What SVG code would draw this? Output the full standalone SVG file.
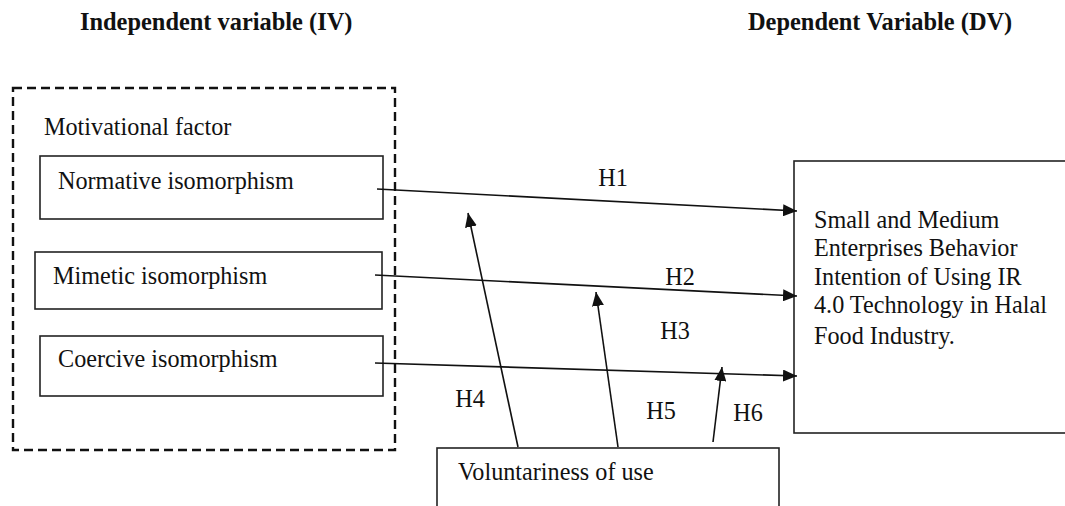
<svg xmlns="http://www.w3.org/2000/svg" width="1065" height="506" viewBox="0 0 1065 506">
<style>
text{font-family:"Liberation Serif","Times New Roman",serif;font-size:24.2px;fill:#111}
.title{font-weight:bold;font-size:24.4px}
.box{fill:none;stroke:#222;stroke-width:1.6}
.dash{fill:none;stroke:#111;stroke-width:2.4;stroke-dasharray:9 5}
.conn{stroke:#111;stroke-width:1.6;fill:none;marker-end:url(#ah)}
.lbl{text-anchor:middle}
</style>
<defs>
<marker id="ah" viewBox="0 0 14 12" refX="14" refY="6" markerWidth="14" markerHeight="12" markerUnits="userSpaceOnUse" orient="auto">
<path d="M0,0 L14,6 L0,12 Z" fill="#111"/>
</marker>
</defs>
<rect width="1065" height="506" fill="#fff"/>
<g id="title-iv"><text class="title" x="80" y="30">Independent variable (IV)</text></g>
<g id="title-dv"><text class="title" x="748" y="30">Dependent Variable (DV)</text></g>
<g id="motivational-factor">
<rect class="dash" x="13" y="88" width="382" height="362"/>
<text x="44" y="135">Motivational factor</text>
</g>
<g id="normative"><rect class="box" x="40" y="156" width="343" height="63"/><text x="58" y="189">Normative isomorphism</text></g>
<g id="mimetic"><rect class="box" x="35" y="252" width="347" height="57"/><text x="53" y="284">Mimetic isomorphism</text></g>
<g id="coercive"><rect class="box" x="40" y="336" width="343" height="60"/><text x="58" y="367">Coercive isomorphism</text></g>
<g id="dv"><rect class="box" x="794" y="161" width="290" height="272"/>
<text x="814" y="228">Small and Medium</text>
<text x="814" y="256">Enterprises Behavior</text>
<text x="814" y="284.5">Intention of Using IR</text>
<text x="814" y="313">4.0 Technology in Halal</text>
<text x="814" y="344">Food Industry.</text>
</g>
<g id="voluntariness"><rect class="box" x="437" y="448" width="342" height="70"/><text x="458" y="480">Voluntariness of use</text></g>
<g id="connectors">
<line class="conn" x1="377" y1="189" x2="797" y2="211"/>
<line class="conn" x1="375" y1="275" x2="797" y2="296"/>
<line class="conn" x1="375" y1="363" x2="797" y2="376"/>
<line class="conn" x1="518" y1="447" x2="468" y2="213"/>
<line class="conn" x1="618" y1="447" x2="596" y2="292"/>
<line class="conn" x1="713" y1="442" x2="722" y2="367"/>
</g>
<g id="labels">
<text class="lbl" x="613" y="186">H1</text>
<text class="lbl" x="680" y="285">H2</text>
<text class="lbl" x="675" y="339">H3</text>
<text class="lbl" x="470" y="407">H4</text>
<text class="lbl" x="661" y="419">H5</text>
<text class="lbl" x="748" y="421">H6</text>
</g>
</svg>
